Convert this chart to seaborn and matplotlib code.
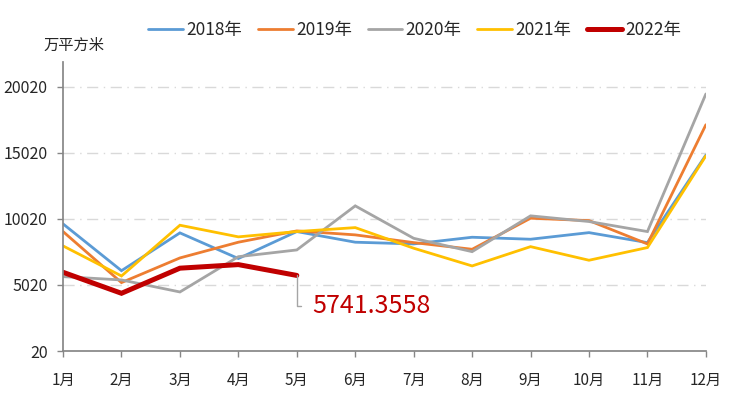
import matplotlib
matplotlib.use("Agg")
import matplotlib.pyplot as plt
import pandas as pd
import seaborn as sns

# Monthly values (万平方米)
months = ["1月", "2月", "3月", "4月", "5月", "6月", "7月", "8月", "9月", "10月", "11月", "12月"]
y2018 = [9640, 6100, 8960, 7020, 9060, 8255, 8125, 8630, 8480, 8980, 8225, 14850]
y2019 = [9060, 5200, 7065, 8255, 9110, 8810, 8225, 7720, 10070, 9890, 8125, 17140]
y2020 = [5650, 5400, 4490, 7160, 7670, 11005, 8550, 7540, 10250, 9820, 9060, 19470]
y2021 = [7975, 5700, 9540, 8660, 9060, 9360, 7800, 6460, 7920, 6890, 7850, 14790]
y2022 = [5980, 4390, 6290, 6560, 5741.3558]

series = {"2018年": y2018, "2019年": y2019, "2020年": y2020, "2021年": y2021, "2022年": y2022}
colors = {"2018年": "#5b9bd5", "2019年": "#ed7d31", "2020年": "#a5a5a5",
          "2021年": "#ffc000", "2022年": "#c00000"}
widths = {"2018年": 2.0, "2019年": 2.0, "2020年": 2.0, "2021年": 2.0, "2022年": 3.6}

yticks = [20, 5020, 10020, 15020, 20020]

sns.set_theme(style="white")
plt.rcParams["font.family"] = ["Noto Sans CJK SC", "DejaVu Sans"]

rows = []
for name, vals in series.items():
    for i, v in enumerate(vals):
        rows.append({"year": name, "idx": i, "value": v})
df = pd.DataFrame(rows)

fig = plt.figure(figsize=(7.33, 3.94), dpi=100)
ax = fig.add_axes([0.086, 0.109, 0.877, 0.734])

for name in series:
    sub = df[df["year"] == name]
    sns.lineplot(data=sub, x="idx", y="value", color=colors[name], linewidth=widths[name],
                 label=name, ax=ax, solid_joinstyle="miter")

ax.set_xlim(0, len(months) - 1)
ax.set_ylim(20, 21900)
ax.set_xticks(range(len(months)))
ax.set_xticklabels(months, fontsize=11)
ax.set_yticks(yticks)
ax.set_yticklabels([str(t) for t in yticks], fontsize=11.5)
ax.set_xlabel("")
ax.set_ylabel("")
ax.tick_params(axis="both", length=4, width=1, color="#868686", direction="out",
               bottom=True, left=True, labelcolor="#262626")
ax.tick_params(axis="x", pad=11)
ax.tick_params(axis="y", pad=7)

for t in yticks[1:]:
    ax.axhline(t, color="#d9d9d9", linewidth=1, linestyle=(0, (8, 4, 1, 4)), zorder=0)

sns.despine(ax=ax)
ax.spines["left"].set_color("#868686")
ax.spines["bottom"].set_color("#868686")

last = len(y2022) - 1
ax.annotate(f"{y2022[-1]:.4f}", xy=(last, y2022[-1]), xytext=(last + 0.27, 3430),
            fontsize=18, color="#c00000", va="center", ha="left",
            arrowprops=dict(arrowstyle="-", color="#a5a5a5", lw=1,
                            connectionstyle="angle,angleA=0,angleB=90,rad=0",
                            shrinkA=6, shrinkB=0, relpos=(0, 0.5)))

fig.text(0.059, 0.885, "万平方米", fontsize=11, color="#262626", va="center")

ax.legend(loc="center", bbox_to_anchor=(0.547, 1.11), ncol=5, frameon=False,
          fontsize=12.5, handlelength=2.0, handletextpad=0.2, columnspacing=0.9)

plt.savefig("out.png", dpi=100)
